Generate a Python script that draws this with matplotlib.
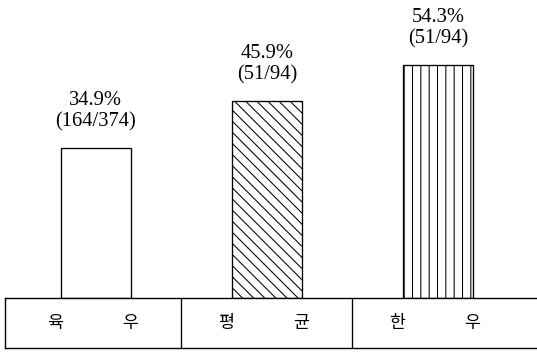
import matplotlib.pyplot as plt

# data
groups = ['육우', '평균', '한우']
rates = [34.9, 45.9, 54.3]
counts = [164, 51, 51]
totals = [374, 94, 94]
hatches = ['', '\\\\\\', '||']

DPI = 100
W, H = 537, 352
plt.rcParams['hatch.linewidth'] = 0.75
plt.rcParams['hatch.color'] = 'black'

fig = plt.figure(figsize=(W / DPI, H / DPI), dpi=DPI)

# bar area sits on top of the label strip
base = 298
left, width = 5 / W, 534 / W
ax = fig.add_axes([left, (H - base) / H, width, base / H])
tab = fig.add_axes([left, (H - 348) / H, width, 50 / H])

xmin, xmax = -0.53, 2.59
px_per_unit = 4.29
ax.set_xlim(xmin, xmax)
ax.set_ylim(0, base / px_per_unit)
ax.axis('off')

x = range(len(groups))
ax.bar(x, rates, width=0.41, color='white', edgecolor='black',
       linewidth=0.95, hatch=hatches)

for i, (r, c, t) in enumerate(zip(rates, counts, totals)):
    ax.annotate(f'{r:.1f}%\n({c}/{t})', xy=(i, r), xytext=(0, 17),
                textcoords='offset pixels', ha='center', va='bottom',
                multialignment='center', fontsize=14.8,
                family='Liberation Serif', linespacing=1.12)

# label strip
tab.set_xlim(xmin, xmax)
tab.set_ylim(0, 1)
tab.set_xticks([])
tab.set_yticks([])
for s in tab.spines.values():
    s.set_linewidth(1.0)
for d in (0.5, 1.5):
    tab.axvline(d, color='black', linewidth=0.95)
for i, g in enumerate(groups):
    tab.text(i - 0.24, 0.5, g[0], ha='center', va='center', fontsize=12.5,
             family='Noto Sans CJK KR')
    tab.text(i + 0.2, 0.5, g[1], ha='center', va='center', fontsize=12.5,
             family='Noto Sans CJK KR')

fig.savefig('out.png', dpi=DPI)
